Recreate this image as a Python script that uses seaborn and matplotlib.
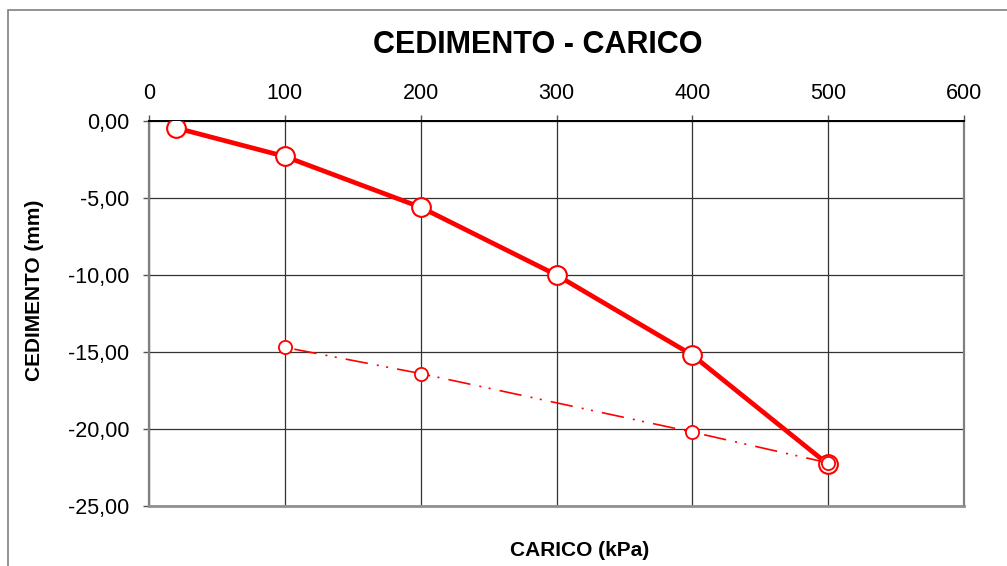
import matplotlib
matplotlib.use("Agg")
import matplotlib.pyplot as plt
from matplotlib.patches import Rectangle
from matplotlib.ticker import FuncFormatter, MultipleLocator
import seaborn as sns
import pandas as pd

# Loading branch (carico crescente)
load_kpa = [20, 100, 200, 300, 400, 500]
load_sett = [-0.45, -2.3, -5.6, -10.0, -15.2, -22.3]

# Unloading branch (scarico)
unload_kpa = [500, 400, 200, 100]
unload_sett = [-22.2, -20.2, -16.4, -14.7]

x_ticks = [0, 100, 200, 300, 400, 500, 600]

sns.set_style("white")
plt.rcParams["font.family"] = ["Liberation Sans", "DejaVu Sans"]
plt.rcParams["text.color"] = "black"
plt.rcParams["axes.labelcolor"] = "black"
plt.rcParams["xtick.labelcolor"] = "black"
plt.rcParams["ytick.labelcolor"] = "black"

W, H = 1007, 566
fig = plt.figure(figsize=(W / 100, H / 100), dpi=100)
ax = fig.add_axes([149 / W, 1 - 506 / H, (964 - 149) / W, (506 - 121) / H])

df_load = pd.DataFrame({"CARICO": load_kpa, "CEDIMENTO": load_sett})
df_unload = pd.DataFrame({"CARICO": unload_kpa, "CEDIMENTO": unload_sett})

sns.lineplot(data=df_load, x="CARICO", y="CEDIMENTO", ax=ax, sort=False,
             color="#FF0000", lw=3.4, marker="o", markersize=13.5,
             markerfacecolor="white", markeredgecolor="#FF0000",
             markeredgewidth=1.5, zorder=4)
sns.lineplot(data=df_unload, x="CARICO", y="CEDIMENTO", ax=ax, sort=False,
             color="#FF0000", lw=1.2, marker="o", markersize=9.5,
             markerfacecolor="white", markeredgecolor="#FF0000",
             markeredgewidth=1.3, zorder=5)
ax.lines[-1].set_dashes([13.5, 5.5, 1.2, 4.5, 1.2, 5.5])

ax.set_xlim(0, 600)
ax.set_ylim(-25, 0)
ax.set_xticks(x_ticks)
ax.yaxis.set_major_locator(MultipleLocator(5))
ax.yaxis.set_major_formatter(FuncFormatter(lambda v, p: f"{v:.2f}".replace(".", ",").replace("-0,00", "0,00")))

ax.xaxis.tick_top()
ax.tick_params(axis="x", which="major", top=True, bottom=False, direction="out",
               length=4.3, width=1, color="#555555", labelsize=15.5, pad=8)
ax.tick_params(axis="y", which="major", left=True, direction="out",
               length=4.3, width=1, color="#555555", labelsize=15.5, pad=10)

ax.grid(True, color="#333333", lw=0.9)
ax.set_axisbelow(True)

for side, col, lw in [("top", "#000000", 1.4), ("left", "#808080", 1.6),
                      ("bottom", "#909090", 2.0), ("right", "#808080", 1.6)]:
    ax.spines[side].set_visible(True)
    ax.spines[side].set_color(col)
    ax.spines[side].set_linewidth(lw)

ax.set_xlabel("CARICO (kPa)", fontsize=15, fontweight="bold", va="center")
ax.xaxis.set_label_position("bottom")
ax.xaxis.set_label_coords((580 - 149) / 815, -35 / 385)
ax.set_ylabel("CEDIMENTO (mm)", fontsize=15, fontweight="bold", va="center")
ax.yaxis.set_label_coords((35 - 149) / 815, (506 - 290) / 385)

fig.text(538 / W, 1 - 45 / H, "CEDIMENTO - CARICO", fontsize=22,
         fontweight="bold", ha="center", va="center")

# Chart frame
fig.patches.append(Rectangle((8 / W, -0.1), 1.2, 1 - 10 / H + 0.1,
                             transform=fig.transFigure, fill=False,
                             edgecolor="#808080", lw=1.2))

fig.savefig("out.png", dpi=100)
